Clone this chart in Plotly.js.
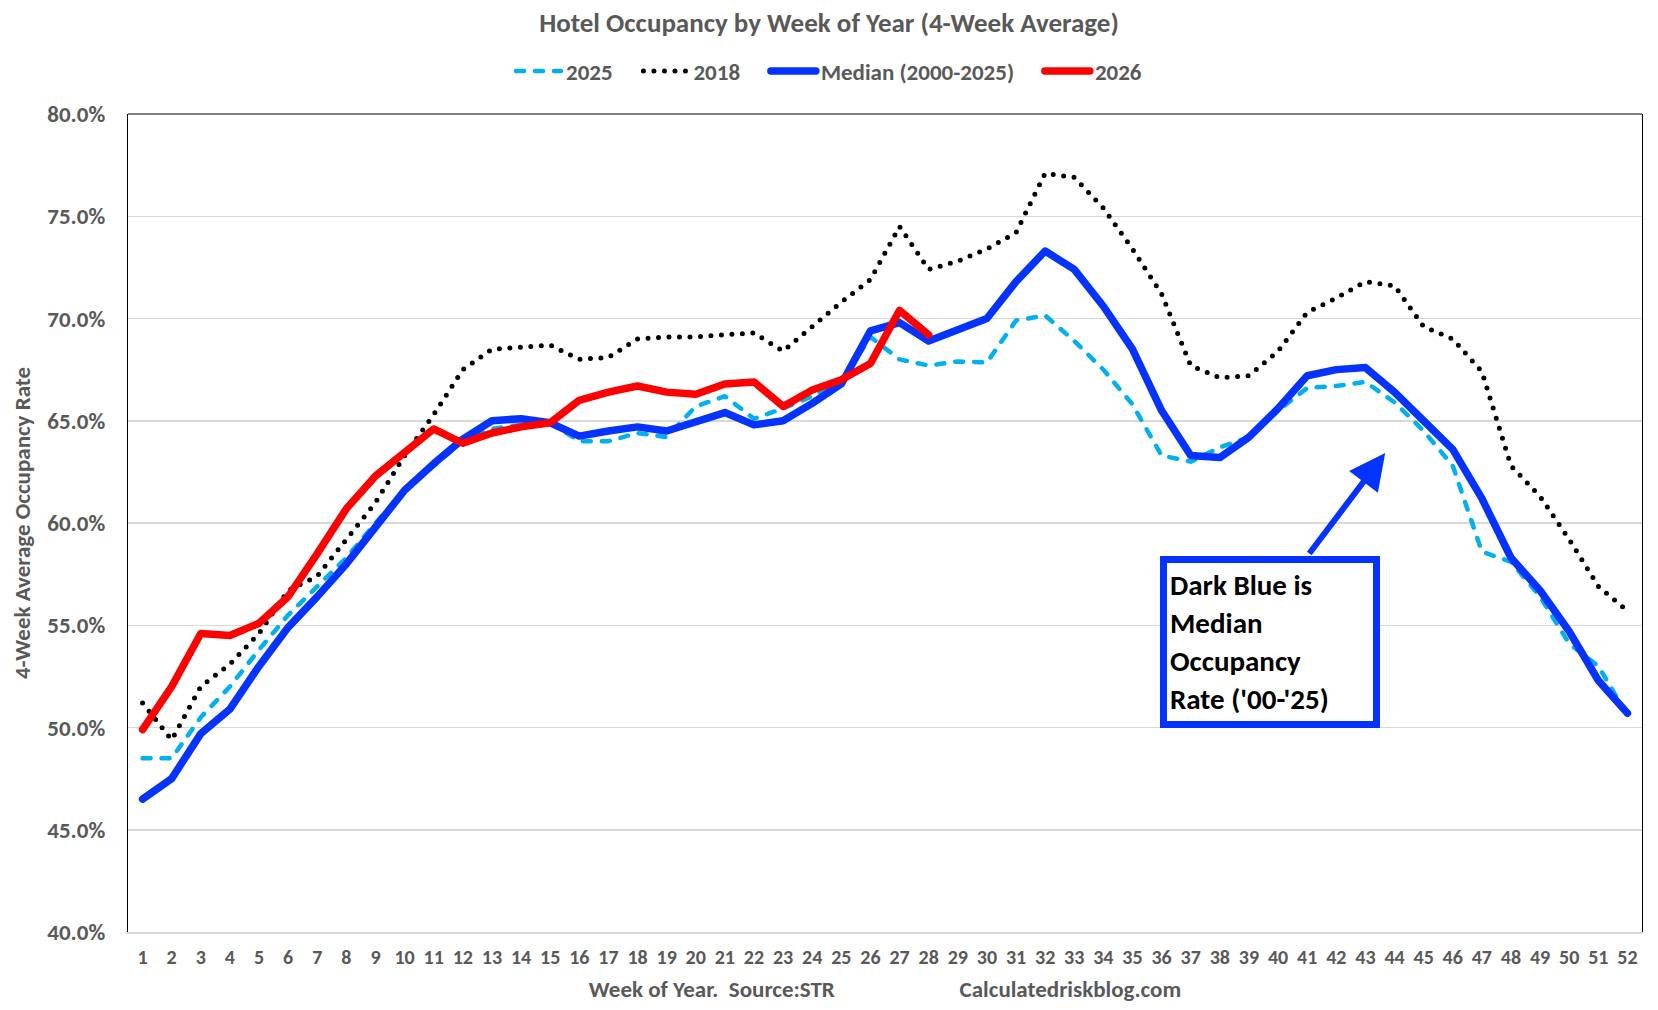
<!DOCTYPE html>
<html>
<head>
<meta charset="utf-8">
<script src="https://cdn.plot.ly/plotly-3.0.1.min.js"></script>
<style>
  body { margin: 0; background: #fff; }
  #chart { width: 1658px; height: 1010px; }
  /* Excel draws round caps and joins; use them for the dotted / dashed series too */
  .js-line { stroke-linecap: round !important; stroke-linejoin: round !important; }
</style>
</head>
<body>
<div id="chart"></div>
<script>
const weeks = Array.from({ length: 52 }, (_, i) => i + 1);

const occ2025 = [48.5, 48.5, 50.5, 52.0, 53.8, 55.5, 56.9, 58.3, 60.0, 61.6,
    62.8, 64.0, 64.6, 64.8, 64.9, 64.0, 64.0, 64.4, 64.2, 65.7,
    66.2, 65.1, 65.6, 66.2, 66.9, 69.1, 68.0, 67.7, 67.9, 67.85,
    69.9, 70.15, 68.9, 67.5, 65.8, 63.3, 63.0, 63.7, 64.2, 65.5,
    66.6, 66.7, 66.9, 65.9, 64.5, 62.8, 58.6, 58.1, 56.4, 54.1,
    53.0, 50.6];

const occ2018 = [51.2, 49.4, 52.0, 53.1, 54.6, 56.7, 57.4, 59.2, 61.0, 63.3,
    65.3, 67.5, 68.5, 68.6, 68.7, 68.0, 68.1, 69.0, 69.1, 69.1,
    69.2, 69.3, 68.4, 69.6, 70.8, 71.9, 74.5, 72.4, 72.8, 73.4,
    74.2, 77.1, 76.9, 75.4, 73.4, 71.2, 67.7, 67.1, 67.2, 68.4,
    70.3, 71.0, 71.8, 71.6, 69.6, 69.0, 67.4, 62.8, 61.3, 59.2,
    56.9, 55.7];

const occMedian = [46.5, 47.5, 49.7, 50.9, 53.0, 54.9, 56.4, 58.0, 59.8, 61.6,
    62.9, 64.1, 65.0, 65.1, 64.9, 64.25, 64.5, 64.7, 64.5, 64.95,
    65.4, 64.8, 65.0, 65.85, 66.8, 69.4, 69.8, 68.9, 69.5, 70.0,
    71.8, 73.3, 72.4, 70.6, 68.5, 65.5, 63.3, 63.2, 64.2, 65.6,
    67.2, 67.5, 67.6, 66.4, 65.0, 63.6, 61.2, 58.3, 56.7, 54.7,
    52.3, 50.7];

const occ2026 = [49.9, 52.0, 54.6, 54.5, 55.1, 56.4, 58.5, 60.7, 62.3, 63.4,
    64.6, 63.9, 64.4, 64.7, 64.9, 66.0, 66.4, 66.7, 66.4, 66.3,
    66.8, 66.9, 65.7, 66.5, 67.0, 67.8, 70.4, 69.2];

const yTicks = [40, 45, 50, 55, 60, 65, 70, 75, 80];

const FONT = 'Carlito, Lato, sans-serif';
const GREY = '#595959';
const BLUE = '#0433FF';
const PAD = '\u00a0\u00a0\u00a0\u00a0'; // extra room between legend entries

const traces = [
    {
        name: '2025' + PAD, x: weeks, y: occ2025, type: 'scatter', mode: 'lines',
        line: { color: '#00B0F0', width: 4.5, dash: '8px,11px' }
    },
    {
        name: '2018' + PAD, x: weeks, y: occ2018, type: 'scatter', mode: 'lines',
        line: { color: '#000000', width: 5, dash: '0px,10.5px' }
    },
    {
        name: 'Median (2000-2025)' + PAD, x: weeks, y: occMedian, type: 'scatter', mode: 'lines',
        line: { color: BLUE, width: 7.5 }
    },
    {
        name: '2026', x: weeks.slice(0, occ2026.length), y: occ2026, type: 'scatter', mode: 'lines',
        line: { color: '#FF0000', width: 7.5 }
    }
];

const layout = {
    width: 1658,
    height: 1010,
    margin: { l: 128, r: 16, t: 114, b: 78 },
    paper_bgcolor: '#ffffff',
    plot_bgcolor: '#ffffff',
    font: { family: FONT, color: GREY, size: 18 },
    title: {
        text: '<b>Hotel Occupancy by Week of Year (4-Week Average)</b>',
        font: { family: FONT, size: 27, color: GREY },
        x: 0.5, xref: 'container', xanchor: 'center',
        y: 1 - 23 / 1010, yref: 'container', yanchor: 'middle'
    },
    showlegend: true,
    legend: {
        orientation: 'h',
        xref: 'container', x: 0.5, xanchor: 'center',
        yref: 'container', y: 1 - 71 / 1010, yanchor: 'middle',
        font: { family: FONT, size: 23, color: GREY, weight: 'bold' },
        itemwidth: 45,
        traceorder: 'normal'
    },
    xaxis: {
        range: [0.5, 52.5],
        tickmode: 'array',
        tickvals: weeks,
        ticktext: weeks.map(String),
        ticks: '',
        ticklabelstandoff: 6,
        showgrid: false,
        zeroline: false,
        showline: true,
        linecolor: '#d9d9d9',
        linewidth: 1.5,
        tickfont: { family: FONT, size: 20, color: GREY, weight: 'bold' },
        title: {
            text: '<b>Week of Year.\u00a0 Source:STR' + '\u00a0'.repeat(24) + 'Calculatedriskblog.com</b>',
            font: { family: FONT, size: 23, color: GREY },
            standoff: 13
        },
        fixedrange: true
    },
    yaxis: {
        range: [40, 80],
        tickmode: 'array',
        tickvals: yTicks,
        ticktext: yTicks.map(v => v.toFixed(1) + '%'),
        ticks: '',
        ticklabelstandoff: 17,
        showgrid: true,
        gridcolor: '#d9d9d9',
        gridwidth: 1.5,
        zeroline: false,
        showline: true,
        mirror: true,
        linecolor: '#000000',
        linewidth: 1.2,
        tickfont: { family: FONT, size: 23, color: GREY, weight: 'bold' },
        title: {
            text: '<b>4-Week Average Occupancy Rate</b>',
            font: { family: FONT, size: 23, color: GREY },
            standoff: 10
        },
        fixedrange: true
    },
    shapes: [
        {
            type: 'line', xref: 'paper', yref: 'paper',
            x0: 0, x1: 1, y0: 1, y1: 1,
            line: { color: '#000000', width: 1.2 }
        }
    ],
    annotations: [
        {
            // arrow pointing up at the median curve
            x: 43.68, y: 63.42, xref: 'x', yref: 'y',
            text: '', showarrow: true,
            axref: 'pixel', ayref: 'pixel', ax: -77, ay: 102,
            arrowcolor: BLUE, arrowwidth: 6, arrowhead: 2, arrowsize: 1.2,
            standoff: 0, startstandoff: 0
        },
        {
            x: 39.73, y: 54.18, xref: 'x', yref: 'y',
            xanchor: 'center', yanchor: 'middle',
            text: "<b>Dark Blue is<br>Median<br>Occupancy<br>Rate ('00-'25)</b>",
            showarrow: false,
            align: 'left',
            width: 200, height: 152,
            borderpad: 3,
            bgcolor: '#ffffff',
            bordercolor: BLUE,
            borderwidth: 7,
            font: { family: FONT, size: 29, color: '#000000' }
        }
    ]
};

Plotly.newPlot('chart', traces, layout, { displayModeBar: false, staticPlot: true });
</script>
</body>
</html>
